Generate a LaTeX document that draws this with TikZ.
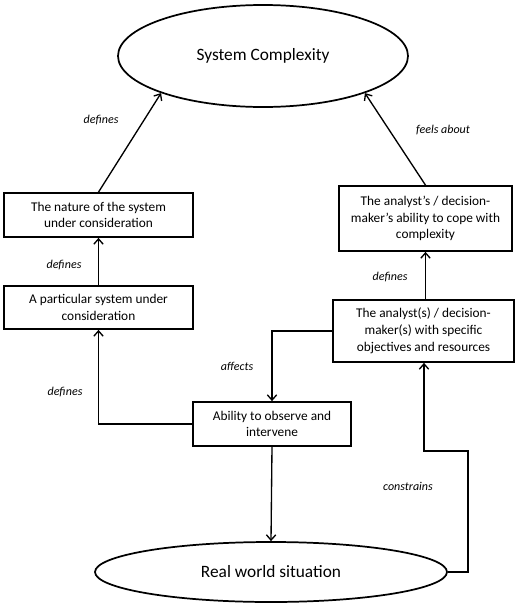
\documentclass[tikz,border=0pt]{standalone}
\usepackage{fontspec}
\setmainfont{Carlito}
\usetikzlibrary{shapes.geometric,arrows.meta}

\tikzset{
  box/.style={shape=rectangle, draw=black, line width=1.3pt, align=center,
    inner sep=0pt, font=\fontsize{10}{12.6}\selectfont},
  blob/.style={shape=ellipse, draw=black, line width=1.3pt, inner sep=0pt,
    font=\fontsize{13}{15}\selectfont},
  arr/.style={line width=1pt, -{Straight Barb[length=4pt,width=7pt]}},
  lbl/.style={font=\fontsize{9}{11}\selectfont\itshape}
}

\begin{document}
\begin{tikzpicture}[x=0.75pt,y=-0.75pt]
  \useasboundingbox (0,0) rectangle (517,603);
  % vertices
  \node[blob, minimum width=217.5pt, minimum height=76.5pt] (sc) at (263,56) {System Complexity};
  \node[blob, minimum width=264pt, minimum height=45pt] (rw) at (271,572) {Real world situation};
  \node[box, minimum width=141.75pt, minimum height=33pt] (nature) at (98.5,215) {The nature of the system\\under consideration};
  \node[box, minimum width=141.75pt, minimum height=32.25pt] (particular) at (98.5,307.5) {A particular system under\\consideration};
  \node[box, minimum width=129.75pt, minimum height=48.75pt] (cope) at (425.5,218.5) {The analyst's / decision-\\maker's ability to cope with\\complexity};
  \node[box, minimum width=135.75pt, minimum height=46.5pt] (analyst) at (423.5,331) {The analyst(s) / decision-\\maker(s) with specific\\objectives and resources};
  \node[box, minimum width=118.5pt, minimum height=33pt] (observe) at (272,424) {Ability to observe and\\intervene};
  \coordinate (k1) at (468,451);
  \coordinate (k2) at (424,451);

  % edges
  \draw [arr](nature.north) -- (sc.200);
  \draw [arr](cope.north) -- (sc.340);
  \draw [arr](particular.north) -- (nature.south);
  \draw [arr](analyst.north -| cope.south) -- (cope.south);
  \draw [arr](observe.south) -- (rw.north);
  \draw [arr](analyst.west) -| (observe.north);
  \draw [arr](observe.west) -| (particular.south);
  \draw [arr](rw.east) -| (k1) -- (k2) -- (k2 |- analyst.south);

  % labels
  \node[lbl] (l1) at (101,120) {defines};
  \node[lbl] (l2) at (443,130) {feels about};
  \node[lbl] (l3) at (64,265) {defines};
  \node[lbl] (l4) at (390,277) {defines};
  \node[lbl] (l5) at (237,366) {affects};
  \node[lbl] (l6) at (65,392) {defines};
  \node[lbl] (l7) at (408,486) {constrains};
\end{tikzpicture}
\end{document}
